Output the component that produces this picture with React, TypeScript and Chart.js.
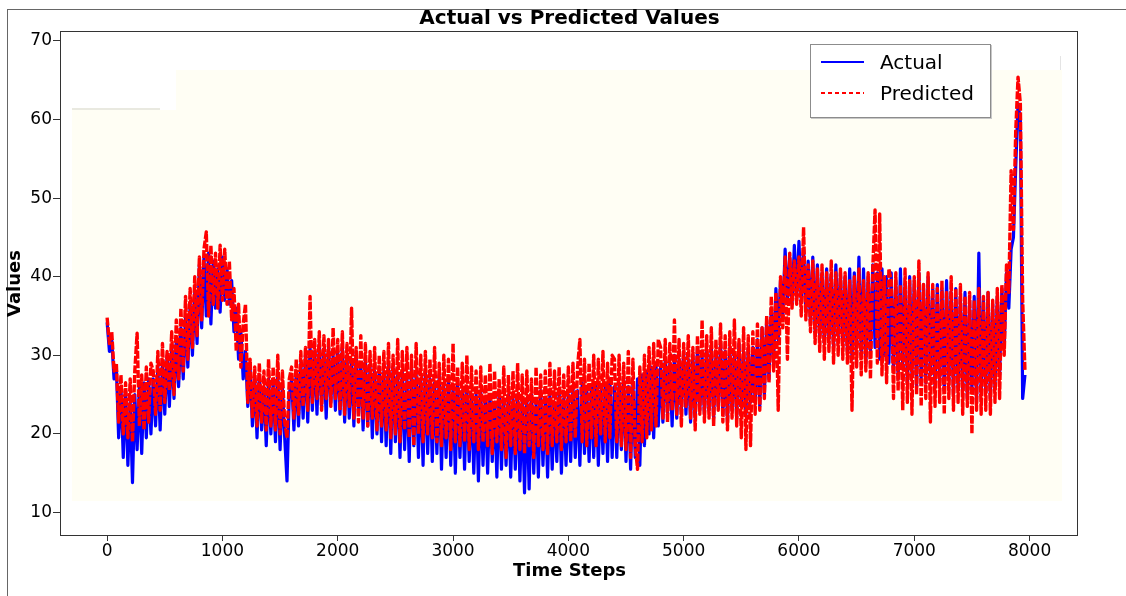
import React, { useEffect, useRef } from "react";
import { Chart, registerables } from "chart.js";

Chart.register(...registerables);

// ---- data (one value every STEP time steps) ----
const STEP = 20;

const actual: number[] = [
  34.2, 30.5, 32.0, 27.0, 28.5, 19.5, 26.0, 17.0, 25.5, 16.0, 24.0, 13.8, 25.0, 18.0, 26.0, 17.5, 26.5, 19.5, 27.0, 20.0,
  27.0, 21.0, 28.5, 20.5, 29.0, 22.5, 30.0, 23.5, 31.0, 24.5, 32.0, 26.0, 33.5, 27.0, 35.0, 28.5, 36.5, 30.0, 38.0, 31.5,
  41.5, 33.5, 42.5, 35.0, 43.0, 34.0, 42.0, 36.0, 41.0, 35.5, 42.5, 37.0, 41.0, 36.5, 39.5, 33.0, 36.0, 29.5, 33.0, 27.0,
  30.5, 23.5, 28.5, 21.0, 27.0, 19.5, 27.5, 20.5, 26.0, 18.5, 27.0, 20.0, 26.5, 19.0, 27.5, 18.0, 26.0, 19.5, 14.0, 25.0,
  27.0, 20.5, 28.0, 21.0, 29.0, 22.0, 30.0, 21.5, 31.0, 23.0, 30.5, 22.5, 31.5, 23.5, 30.5, 22.0, 31.0, 24.0, 30.0, 23.0,
  30.5, 22.5, 31.0, 21.5, 30.0, 22.0, 29.5, 21.0, 30.5, 22.5, 29.0, 20.5, 29.5, 21.0, 28.5, 19.5, 28.0, 20.0, 28.5, 19.0,
  28.0, 18.5, 29.0, 17.5, 28.5, 19.0, 27.5, 17.0, 28.0, 18.0, 27.0, 16.5, 28.5, 18.5, 27.5, 17.0, 27.0, 16.0, 28.0, 17.5,
  27.0, 16.5, 26.5, 17.5, 27.5, 15.5, 26.0, 17.0, 27.0, 16.0, 26.0, 15.0, 26.5, 17.0, 25.5, 15.5, 26.0, 16.5, 25.0, 15.0,
  25.0, 14.0, 25.5, 16.0, 24.5, 15.0, 25.0, 16.5, 24.0, 14.5, 25.5, 15.5, 24.0, 16.0, 25.0, 14.5, 24.5, 15.5, 25.0, 14.0,
  24.0, 12.5, 24.5, 13.0, 25.0, 15.0, 24.0, 14.5, 25.5, 16.0, 24.5, 14.5, 25.0, 15.5, 24.0, 16.5, 25.5, 15.0, 24.5, 16.0,
  25.0, 16.5, 26.0, 17.0, 25.5, 16.0, 26.5, 17.5, 25.5, 16.5, 26.0, 17.0, 26.5, 16.0, 25.5, 17.5, 26.0, 16.5, 27.0, 17.0,
  26.0, 17.0, 26.5, 18.0, 27.0, 16.5, 26.0, 15.5, 26.5, 17.0, 27.0, 16.0, 27.5, 18.5, 28.0, 20.0, 28.5, 19.5, 29.0, 21.0,
  28.5, 21.5, 29.5, 22.5, 29.0, 21.0, 30.0, 22.0, 29.5, 23.0, 30.5, 22.5, 29.5, 21.5, 30.0, 22.0, 31.0, 23.0, 30.0, 22.5,
  30.5, 23.0, 31.0, 22.0, 30.0, 23.5, 31.5, 22.5, 30.5, 21.5, 31.0, 23.0, 30.0, 22.0, 31.5, 23.5, 30.5, 22.5, 31.0, 24.0,
  31.0, 24.0, 32.0, 23.5, 33.5, 25.0, 34.5, 27.0, 36.0, 29.0, 38.5, 32.0, 39.5, 35.0, 43.5, 37.0, 42.5, 36.5, 44.0, 37.5,
  44.5, 37.0, 43.5, 35.5, 42.0, 34.0, 42.5, 33.0, 41.5, 32.5, 40.5, 31.5, 41.0, 32.0, 40.0, 31.0, 41.5, 32.5, 40.5, 31.5,
  40.0, 30.5, 41.0, 29.5, 40.5, 31.0, 42.5, 30.0, 41.0, 29.0, 40.0, 30.5, 41.5, 31.0, 40.5, 29.5, 41.0, 30.0, 40.0, 29.0,
  40.5, 28.0, 39.5, 27.0, 41.0, 28.5, 39.0, 26.5, 40.0, 27.5, 39.5, 26.0, 40.5, 27.0, 39.0, 26.5, 40.0, 27.5, 38.5, 26.0,
  39.0, 26.5, 38.5, 25.5, 39.5, 27.0, 38.0, 25.0, 38.5, 26.0, 37.5, 25.5, 38.0, 24.5, 37.0, 25.5, 37.5, 24.0, 43.0, 25.0,
  37.0, 25.5, 38.0, 24.5, 36.5, 26.0, 37.5, 27.5, 38.5, 31.0, 40.5, 36.0, 43.5, 45.0, 54.0, 62.0, 60.0, 24.5, 27.5,
];

const predicted: number[] = [
  34.8, 31.5, 33.0, 28.0, 29.0, 21.5, 27.5, 20.0, 26.5, 19.5, 27.0, 19.0, 28.0, 32.8, 21.0, 27.5, 20.5, 28.5, 21.5, 29.0,
  28.0, 22.5, 30.5, 23.0, 31.5, 24.0, 30.5, 25.5, 33.0, 25.0, 34.5, 27.0, 36.0, 28.0, 37.5, 29.5, 38.5, 31.0, 40.0, 32.5,
  42.5, 34.5, 43.5, 45.7, 35.0, 44.0, 36.5, 43.0, 36.0, 44.0, 37.0, 43.5, 36.5, 42.0, 34.5, 38.5, 30.5, 36.5, 28.5, 34.0,
  36.5, 24.0, 29.5, 22.0, 28.5, 21.0, 29.0, 21.5, 28.0, 20.5, 29.5, 21.0, 28.5, 20.5, 30.0, 20.0, 28.0, 21.5, 19.5, 27.0,
  28.5, 22.0, 29.5, 22.5, 30.5, 23.5, 31.0, 23.0, 37.5, 24.0, 32.0, 24.5, 33.0, 23.0, 32.5, 24.5, 32.0, 23.5, 33.5, 24.5,
  32.0, 23.0, 33.0, 22.5, 31.5, 23.5, 36.0, 22.0, 31.0, 21.5, 32.5, 22.0, 31.5, 21.0, 30.5, 22.0, 31.0, 20.5, 30.0, 21.0,
  30.5, 20.5, 31.5, 19.5, 30.0, 20.0, 32.0, 19.0, 30.5, 20.5, 31.0, 19.5, 30.0, 18.5, 31.5, 20.0, 30.0, 19.0, 30.5, 20.0,
  29.5, 19.5, 31.0, 19.0, 29.0, 18.5, 30.0, 19.5, 29.5, 18.0, 31.5, 19.0, 28.5, 18.5, 29.0, 19.0, 30.0, 18.0, 28.5, 19.0,
  28.0, 18.0, 28.5, 19.0, 27.5, 18.5, 29.0, 17.5, 28.0, 19.0, 27.0, 18.0, 28.5, 17.0, 27.5, 18.5, 28.0, 17.5, 29.0, 18.0,
  27.5, 17.5, 28.0, 18.5, 27.0, 17.0, 28.5, 18.5, 27.5, 18.0, 28.0, 17.5, 29.0, 18.5, 28.0, 19.0, 28.5, 18.0, 27.5, 19.0,
  28.5, 19.0, 29.0, 19.5, 28.5, 32.0, 19.0, 29.5, 18.5, 29.0, 19.5, 30.0, 18.5, 29.5, 20.0, 30.5, 19.0, 29.0, 19.5, 30.0,
  29.5, 19.0, 30.0, 18.5, 29.0, 18.0, 30.5, 17.0, 29.5, 18.5, 15.5, 28.5, 19.0, 30.0, 19.5, 31.0, 20.5, 31.5, 21.0, 32.0,
  31.0, 22.0, 32.0, 21.5, 31.5, 23.0, 34.5, 22.5, 32.0, 21.0, 31.5, 23.5, 32.5, 22.0, 31.0, 20.5, 32.5, 22.5, 34.5, 21.5,
  32.5, 22.0, 33.5, 21.0, 32.0, 23.0, 34.0, 21.5, 32.5, 20.5, 33.0, 22.0, 34.5, 21.0, 32.0, 19.5, 33.5, 18.0, 32.5, 18.5,
  33.0, 22.5, 34.0, 23.0, 33.5, 24.5, 35.0, 26.5, 37.5, 28.0, 38.0, 23.0, 40.0, 33.5, 42.5, 29.5, 43.0, 36.0, 42.0, 36.5,
  42.5, 35.0, 46.3, 34.5, 41.5, 33.0, 42.0, 31.5, 41.0, 30.5, 41.5, 29.5, 40.5, 30.5, 42.0, 29.0, 40.5, 30.0, 41.0, 29.5,
  40.5, 29.0, 39.5, 23.0, 40.0, 28.5, 41.0, 27.5, 39.5, 28.0, 40.5, 27.0, 41.0, 48.5, 29.0, 48.0, 27.5, 40.0, 26.5, 41.0,
  39.5, 24.5, 40.5, 25.5, 39.0, 23.0, 41.0, 24.0, 39.5, 22.5, 40.0, 25.0, 42.0, 23.5, 39.0, 24.5, 40.5, 21.5, 39.0, 23.5,
  38.5, 24.0, 39.5, 22.5, 38.0, 24.5, 40.0, 23.0, 38.5, 24.0, 39.0, 22.5, 37.5, 23.5, 38.0, 20.0, 37.0, 23.0, 38.5, 22.5,
  37.5, 23.0, 38.0, 22.5, 37.0, 24.0, 38.5, 24.5, 39.0, 30.0, 41.5, 38.0, 53.5, 46.0, 58.5, 65.4, 62.0, 37.0, 28.0,
];

const timeSteps: number[] = actual.map((_, i) => i * STEP);

const SERIES_NAMES = ["Actual", "Predicted"];
const SERIES_COLORS = ["#0000ff", "#ff0000"];
const TITLE = "Actual vs Predicted Values";
const X_LABEL = "Time Steps";
const Y_LABEL = "Values";
const X_TICKS = [0, 1000, 2000, 3000, 4000, 5000, 6000, 7000, 8000];
const Y_TICKS = [10, 20, 30, 40, 50, 60, 70];

const FONT = "'DejaVu Sans', 'Liberation Sans', sans-serif";

const framePlugin = {
  id: "frame",
  afterDraw(chart: any) {
    const { ctx, chartArea: a } = chart;
    ctx.save();
    ctx.strokeStyle = "#333";
    ctx.lineWidth = 1;
    ctx.strokeRect(Math.round(a.left) - 0.5, Math.round(a.top) + 0.5, Math.round(a.right - a.left), Math.round(a.bottom - a.top) - 1);
    ctx.restore();
  },
};

export default function App() {
  const canvasRef = useRef<HTMLCanvasElement | null>(null);

  useEffect(() => {
    if (!canvasRef.current) return;
    const chart = new Chart(canvasRef.current, {
      type: "line",
      data: {
        datasets: [
          {
            label: SERIES_NAMES[0],
            data: actual.map((v, i) => ({ x: timeSteps[i], y: v })),
            borderColor: SERIES_COLORS[0],
            backgroundColor: SERIES_COLORS[0],
            borderWidth: 3.2,
            borderJoinStyle: "round",
            borderCapStyle: "butt",
            pointRadius: 0,
            tension: 0,
            order: 2,
          },
          {
            label: SERIES_NAMES[1],
            data: predicted.map((v, i) => ({ x: timeSteps[i], y: v })),
            borderColor: SERIES_COLORS[1],
            backgroundColor: SERIES_COLORS[1],
            borderWidth: 3.4,
            borderDash: [8, 1.6],
            borderJoinStyle: "round",
            borderCapStyle: "butt",
            pointRadius: 0,
            tension: 0,
            order: 1,
          },
        ],
      },
      options: {
        responsive: false,
        animation: false,
        devicePixelRatio: 1,
        events: [],
        layout: { padding: { left: 0, right: 48, top: 0, bottom: 0 } },
        plugins: {
          legend: { display: false },
          tooltip: { enabled: false },
          title: {
            display: true,
            text: TITLE,
            fullSize: false,
            color: "#000",
            font: { family: FONT, size: 20, weight: "bold", lineHeight: 1.2 },
            padding: { top: 7, bottom: 0 },
          },
        },
        scales: {
          x: {
            type: "linear",
            min: -400,
            max: 8420,
            afterFit: (s: any) => {
              s.height = 60;
            },
            afterBuildTicks: (s: any) => {
              s.ticks = X_TICKS.map((v) => ({ value: v }));
            },
            ticks: {
              color: "#000",
              font: { family: FONT, size: 17, lineHeight: 1 },
              padding: 2,
              autoSkip: false,
              maxRotation: 0,
              callback: (v: any) => String(v),
            },
            grid: { drawOnChartArea: false, drawTicks: true, tickLength: 5, color: "#333" },
            border: { display: false },
            title: {
              display: true,
              text: X_LABEL,
              color: "#000",
              font: { family: FONT, size: 18, weight: "bold", lineHeight: 1.2 },
              padding: { top: 0, bottom: 14 },
            },
          },
          y: {
            type: "linear",
            min: 7.0,
            max: 71.27,
            afterFit: (s: any) => {
              s.width = 61;
            },
            afterBuildTicks: (s: any) => {
              s.ticks = Y_TICKS.map((v) => ({ value: v }));
            },
            ticks: {
              color: "#000",
              font: { family: FONT, size: 17 },
              padding: 1,
              autoSkip: false,
              callback: (v: any) => String(v),
            },
            grid: { drawOnChartArea: false, drawTicks: true, tickLength: 8, color: "#333" },
            border: { display: false },
            title: {
              display: true,
              text: Y_LABEL,
              color: "#000",
              font: { family: FONT, size: 18, weight: "bold", lineHeight: 1.2 },
              padding: { top: 5, bottom: 0 },
            },
          },
        },
      } as any,
      plugins: [framePlugin],
    });
    return () => chart.destroy();
  }, []);

  const legendText: React.CSSProperties = {
    position: "absolute",
    left: 880,
    fontFamily: FONT,
    fontSize: 20,
    lineHeight: "20px",
    color: "#000",
    whiteSpace: "nowrap",
  };

  return (
    <div style={{ position: "absolute", left: 0, top: 0, width: 1126, height: 596, background: "#fff", overflow: "hidden" }}>
      {/* screenshot frame lines */}
      <div style={{ position: "absolute", left: 7, top: 9, width: 1119, height: 1, background: "#666" }} />
      <div style={{ position: "absolute", left: 7, top: 9, width: 1, height: 587, background: "#666" }} />
      {/* cream background panels */}
      <div style={{ position: "absolute", left: 72, top: 110, width: 990, height: 391, background: "#fffef4" }} />
      <div style={{ position: "absolute", left: 176, top: 70, width: 886, height: 40, background: "#fffef4" }} />
      <div style={{ position: "absolute", left: 72, top: 108, width: 88, height: 2, background: "#e9e9e0" }} />
      <div style={{ position: "absolute", left: 1060, top: 56, width: 1, height: 14, background: "#e4e4e4" }} />
      <canvas ref={canvasRef} width={1126} height={596} style={{ position: "absolute", left: 0, top: 0 }} />
      {/* legend */}
      <div
        style={{
          position: "absolute",
          left: 810,
          top: 44,
          width: 179,
          height: 72,
          background: "#fff",
          border: "1px solid #8c8c8c",
          boxShadow: "1px 1px 0 #c8c8c8",
        }}
      />
      <div style={{ position: "absolute", left: 821, top: 61, width: 43, height: 2, background: SERIES_COLORS[0] }} />
      <div
        style={{
          position: "absolute",
          left: 821,
          top: 92,
          width: 43,
          height: 2,
          background: `repeating-linear-gradient(to right, ${SERIES_COLORS[1]} 0px, ${SERIES_COLORS[1]} 4px, transparent 4px, transparent 7px)`,
        }}
      />
      <span style={{ ...legendText, top: 52 }}>{SERIES_NAMES[0]}</span>
      <span style={{ ...legendText, top: 83 }}>{SERIES_NAMES[1]}</span>
    </div>
  );
}
